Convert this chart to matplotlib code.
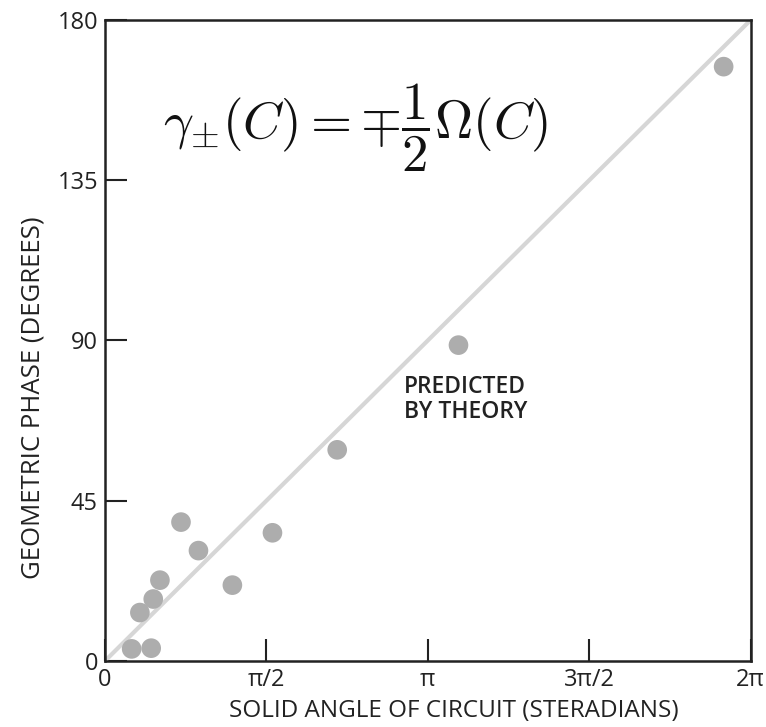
import numpy as np
import matplotlib
matplotlib.use("Agg")
import matplotlib.pyplot as plt

# data (solid angle in steradians, geometric phase in degrees)
solid_angle = [0.26, 0.45, 0.34, 0.47, 0.535, 0.74, 0.91, 1.24, 1.63, 2.26, 3.44, 6.02]
phase_deg = [3.4, 3.6, 13.6, 17.4, 22.7, 39.0, 31.0, 21.3, 36.0, 59.3, 88.7, 166.9]

theory_x = [0, 2 * np.pi]
theory_y = [0, 180]

xticks = [0, np.pi / 2, np.pi, 3 * np.pi / 2, 2 * np.pi]
xticklabels = ["0", "π/2", "π", "3π/2", "2π"]
yticks = [0, 45, 90, 135, 180]
yticklabels = ["0", "45", "90", "135", "180"]

plt.rcParams['font.family'] = ['Open Sans', 'DejaVu Sans']
plt.rcParams['mathtext.fontset'] = 'cm'

fig = plt.figure(figsize=(7.66, 7.27), dpi=100)
ax = fig.add_axes([0.137, 0.0908, 0.843, 0.8817])

ax.plot(theory_x, theory_y, color="#d6d6d6", lw=3, solid_capstyle="butt", zorder=2)
ax.scatter(solid_angle, phase_deg, s=200, color="#adadad", edgecolors="none", zorder=3)

ax.set_xlim(0, 2 * np.pi)
ax.set_ylim(0, 180)
ax.set_xticks(xticks)
ax.set_xticklabels(xticklabels)
ax.set_yticks(yticks)
ax.set_yticklabels(yticklabels)
ax.tick_params(direction="in", length=16, width=1.5, labelsize=17, colors="#222222", pad=5)

for s in ax.spines.values():
    s.set_linewidth(1.8)
    s.set_color("#222222")

ax.set_xlabel("SOLID ANGLE OF CIRCUIT (STERADIANS)", fontsize=17.5, color="#222222")
ax.set_ylabel("GEOMETRIC PHASE (DEGREES)", fontsize=18.5, color="#222222")
ax.xaxis.set_label_coords(0.54, -0.059)
ax.yaxis.set_label_coords(-0.092, 0.41)

ax.text(0.09, 0.832, r"$\gamma_{\pm}(C) = \mp\dfrac{1}{2}\Omega(C)$", transform=ax.transAxes,
        fontsize=38, color="#111111", va="center", ha="left")
ax.text(0.463, 0.408, "PREDICTED\nBY THEORY", transform=ax.transAxes,
        fontsize=16.5, color="#222222", va="center", ha="left", linespacing=1.1,
        fontweight="semibold")

fig.savefig("out.png", dpi=100)
